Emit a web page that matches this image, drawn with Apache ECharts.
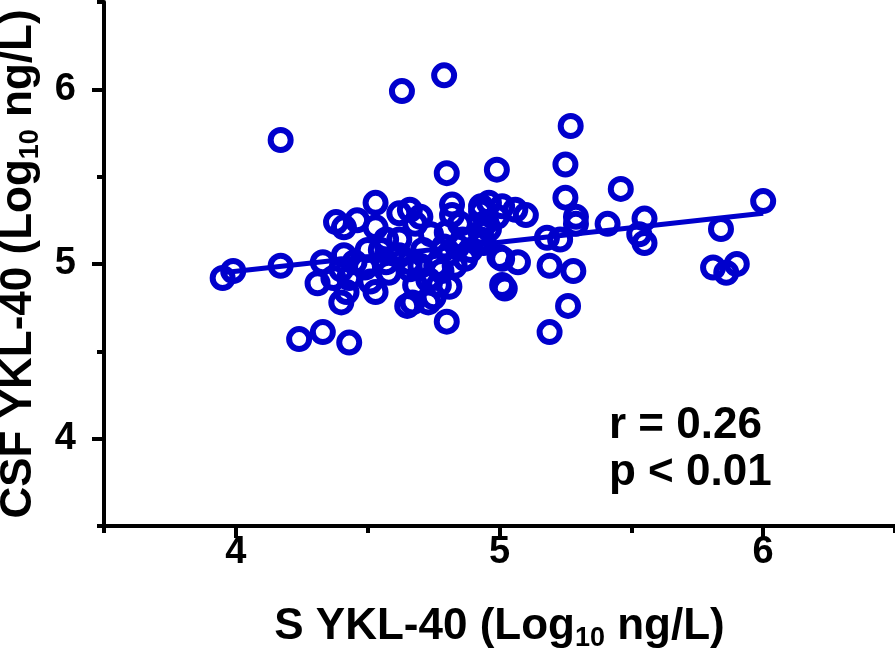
<!DOCTYPE html>
<html>
<head>
<meta charset="utf-8">
<script src="https://cdn.jsdelivr.net/npm/echarts@6/dist/echarts.min.js"></script>
<style>
html,body{margin:0;padding:0;background:#fff;}
#chart{width:895px;height:652px;}
</style>
</head>
<body>
<div id="chart"></div>
<script>
// Serum YKL-40 (x) vs CSF YKL-40 (y), both log10 ng/L
const sYKL = [3.95,3.99,4.17,4.17,4.24,4.33,4.43,4.31,4.33,4.38,4.41,4.46,4.53,4.53,4.42,4.40,4.53,4.37,4.40,4.43,
  4.45,4.41,4.50,4.49,4.51,4.57,4.58,4.55,4.62,4.66,4.70,4.68,4.62,4.65,4.67,4.73,4.75,4.63,4.79,4.71,
  4.79,4.84,4.70,4.76,4.66,4.62,4.73,4.77,4.68,4.81,4.80,4.82,4.82,4.80,4.80,4.85,4.74,4.87,4.83,4.93,
  4.95,4.99,4.93,4.96,5.01,5.06,5.10,4.99,4.93,4.96,4.94,4.93,5.00,5.01,5.07,5.01,5.02,5.18,5.23,5.19,
  5.28,5.26,5.19,5.25,5.25,5.29,5.27,5.29,5.41,5.46,5.53,5.55,5.55,5.81,5.86,5.90,5.84,6.00,4.89,4.86,
  4.57,4.78,4.81,4.66];
const csfYKL = [4.92,4.96,4.99,5.71,4.57,4.61,4.55,4.89,5.01,5.24,5.21,5.25,5.35,5.21,4.84,4.78,4.84,4.92,4.97,4.92,
  5.01,5.05,5.08,4.98,4.90,5.01,4.95,5.08,5.29,5.31,5.27,5.23,5.14,4.76,4.78,4.78,4.81,5.99,6.08,5.08,
  5.10,5.10,4.99,4.99,5.01,5.05,4.91,4.88,4.88,4.87,4.67,5.34,5.28,5.52,5.18,5.23,5.17,5.03,4.99,5.30,
  5.24,5.27,5.33,5.35,5.33,5.31,5.28,5.54,5.18,5.20,5.12,5.14,5.04,5.03,5.01,4.88,4.86,5.15,5.14,4.99,
  4.96,4.76,4.61,5.57,5.38,5.27,5.79,5.23,5.23,5.43,5.17,5.12,5.26,4.98,4.95,5.00,5.20,5.36,5.08,5.14,
  5.14,4.96,5.06,4.97];
// Fitted regression line endpoints
const fitX = [3.95, 6.00];
const fitY = [4.95, 5.29];
const majorTicks = [4, 5, 6];
const minorTicks = [3.5, 4.5, 5.5, 6.5];
const annotations = ['r = 0.26', 'p < 0.01'];

const BLUE = '#0000CC';
const FONT = "'Liberation Sans', Arial, Helvetica, sans-serif";

const points = sYKL.map((x, i) => [x, csfYKL[i]]);
const fitLine = fitX.map((x, i) => [x, fitY[i]]);

const chart = echarts.init(document.getElementById('chart'), null, {renderer: 'canvas'});

const titleRich = {
  a: {fontFamily: FONT, fontWeight: 'bold', fontSize: 44, color: '#000', lineHeight: 50},
  s: {fontFamily: FONT, fontWeight: 'bold', fontSize: 27, color: '#000', lineHeight: 20, verticalAlign: 'bottom'}
};

function mainAxis(extra) {
  return Object.assign({
    type: 'value', min: 3.5, max: 6.5, interval: 0.5,
    gridIndex: 0,
    splitLine: {show: false},
    axisLine: {show: true, onZero: false, lineStyle: {color: '#000', width: 4}},
  }, extra);
}

chart.setOption({
  animation: false,
  backgroundColor: '#fff',
  grid: {left: 104, right: 0, top: 2, bottom: 126, containLabel: false, outerBoundsMode: 'none'},
  xAxis: [
    mainAxis({
      position: 'bottom',
      name: '{a|S YKL-40 (Log}{s|10}{a| ng/L)}',
      nameLocation: 'middle', nameGap: 76,
      nameTextStyle: {rich: titleRich},
      axisTick: {show: true, length: 12, lineStyle: {color: '#000', width: 4}, customValues: majorTicks},
      axisLabel: {show: true, customValues: majorTicks, margin: 8, color: '#000',
        fontFamily: FONT, fontWeight: 'bold', fontSize: 38}
    }),
    mainAxis({
      position: 'bottom', offset: 0,
      axisLine: {show: false, onZero: false},
      axisTick: {show: true, length: 7, lineStyle: {color: '#000', width: 4}, customValues: minorTicks},
      axisLabel: {show: false}
    })
  ],
  yAxis: [
    mainAxis({
      position: 'left',
      name: '{a|CSF YKL-40 (Log}{s|10}{a| ng/L)}',
      nameLocation: 'middle', nameGap: 58, nameRotate: 90,
      nameTextStyle: {rich: titleRich},
      axisTick: {show: true, length: 12, lineStyle: {color: '#000', width: 4}, customValues: majorTicks},
      axisLabel: {show: true, customValues: majorTicks, margin: 28, color: '#000',
        fontFamily: FONT, fontWeight: 'bold', fontSize: 38}
    }),
    mainAxis({
      position: 'left', offset: 0,
      axisLine: {show: false, onZero: false},
      axisTick: {show: true, length: 7, lineStyle: {color: '#000', width: 4}, customValues: minorTicks},
      axisLabel: {show: false}
    })
  ],
  graphic: [
    {type: 'text', left: 609, top: 404, style: {text: annotations[0], fill: '#000',
      font: "bold 44px 'Liberation Sans', Arial, sans-serif"}},
    {type: 'text', left: 609, top: 451, style: {text: annotations[1], fill: '#000',
      font: "bold 44px 'Liberation Sans', Arial, sans-serif"}}
  ],
  series: [
    {
      type: 'scatter', xAxisIndex: 0, yAxisIndex: 0,
      data: points,
      symbol: 'circle', symbolSize: 20,
      itemStyle: {color: 'rgba(0,0,0,0)', borderColor: BLUE, borderWidth: 6, opacity: 1},
      emphasis: {disabled: true},
      z: 3
    },
    {
      type: 'line', xAxisIndex: 0, yAxisIndex: 0,
      data: fitLine, symbol: 'none',
      lineStyle: {color: BLUE, width: 5},
      z: 4
    }
  ]
});
</script>
</body>
</html>
